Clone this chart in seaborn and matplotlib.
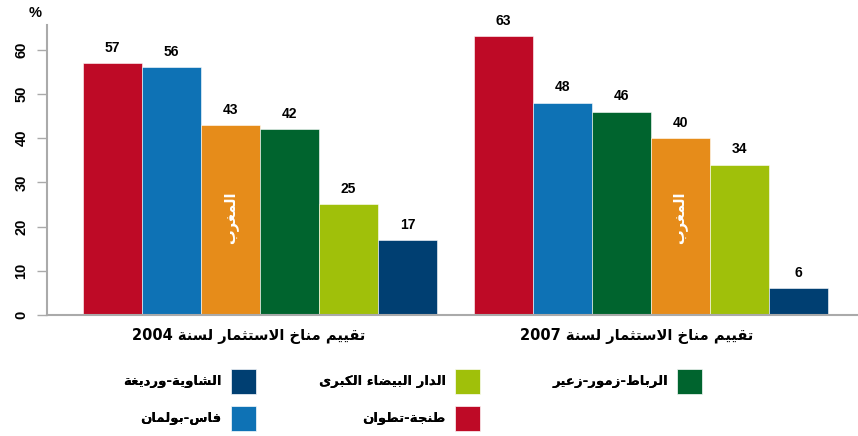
import unicodedata
import matplotlib
matplotlib.use("Agg")
import matplotlib.pyplot as plt
from matplotlib.patches import Patch
import pandas as pd
import seaborn as sns

# ---- data -------------------------------------------------------------
years = ["2004", "2007"]
regions = ["طنجة-تطوان", "فاس-بولمان", "المغرب", "الرباط-زمور-زعير",
           "الدار البيضاء الكبرى", "الشاوية-ورديغة"]
colors = ["#BE0A26", "#0E72B5", "#E68C1A", "#00642E", "#A0C00A", "#003F72"]
values_2004 = [57, 56, 43, 42, 25, 17]
values_2007 = [63, 48, 46, 40, 34, 6]
order_2004 = ["طنجة-تطوان", "فاس-بولمان", "المغرب", "الرباط-زمور-زعير",
              "الدار البيضاء الكبرى", "الشاوية-ورديغة"]
order_2007 = ["طنجة-تطوان", "فاس-بولمان", "الرباط-زمور-زعير", "المغرب",
              "الدار البيضاء الكبرى", "الشاوية-ورديغة"]
year_label = "تقييم مناخ الاستثمار لسنة"
country = "المغرب"
y_ticks = [0, 10, 20, 30, 40, 50, 60]

# legend layout: columns read right-to-left
legend_cols = [["الشاوية-ورديغة", "فاس-بولمان"],
               ["الدار البيضاء الكبرى", "طنجة-تطوان"],
               ["الرباط-زمور-زعير"]]

# ---- minimal Arabic shaping for matplotlib (no bidi engine) ----------
RIGHT_ONLY = set("اأإآدذرزوؤةى")


def _form(ch, form):
    if ch == "\uFEFB":
        return "\uFEFC" if form in ("final", "medial") else "\uFEFB"
    name = unicodedata.name(ch)
    try:
        return unicodedata.lookup(f"{name} {form.upper()} FORM")
    except KeyError:
        return ch


def _is_ar(ch):
    return ch == "\uFEFB" or "\u0621" <= ch <= "\u064A"


def shape(text):
    chars = []
    i = 0
    while i < len(text):
        if text[i] == "ل" and i + 1 < len(text) and text[i + 1] == "ا":
            chars.append("\uFEFB")
            i += 2
        else:
            chars.append(text[i])
            i += 1
    out = []
    for k, ch in enumerate(chars):
        if not _is_ar(ch):
            out.append(ch)
            continue
        dual = ch not in RIGHT_ONLY and ch != "\uFEFB"
        prev = chars[k - 1] if k > 0 else ""
        nxt = chars[k + 1] if k + 1 < len(chars) else ""
        join_prev = bool(prev) and _is_ar(prev) and prev not in RIGHT_ONLY and prev != "\uFEFB"
        join_next = dual and bool(nxt) and _is_ar(nxt)
        if join_prev and join_next:
            form = "medial"
        elif join_prev:
            form = "final"
        elif join_next:
            form = "initial"
        else:
            form = "isolated"
        out.append(_form(ch, form))
    vis = "".join(out)[::-1]
    # digits keep left-to-right order
    res, run = [], ""
    for ch in vis:
        if ch.isdigit():
            run += ch
        else:
            if run:
                res.append(run[::-1])
                run = ""
            res.append(ch)
    if run:
        res.append(run[::-1])
    return "".join(res)


# ---- table ------------------------------------------------------------
rows = []
for year, order, vals in [(years[0], order_2004, values_2004),
                          (years[1], order_2007, values_2007)]:
    for rank, (reg, v) in enumerate(zip(order, vals)):
        rows.append({"year": year, "rank": rank, "region": reg, "value": v})
df = pd.DataFrame(rows)
color_of = dict(zip(regions, colors))

# ---- figure -----------------------------------------------------------
sns.set_theme(style="white")
plt.rcParams["font.family"] = ["DejaVu Sans"]
plt.rcParams["text.color"] = "black"
plt.rcParams["xtick.labelcolor"] = "black"
plt.rcParams["ytick.labelcolor"] = "black"

fig = plt.figure(figsize=(8.58, 4.36), dpi=100)
ax = fig.add_axes([47 / 858, (436 - 315) / 436, (858 - 47) / 858, (315 - 25) / 436])

sns.barplot(data=df, x="year", y="value", hue="rank", order=years,
            dodge=True, width=0.906, palette=["#888888"] * 6,
            legend=False, ax=ax, saturation=1, errorbar=None)

ar_font = dict(family="DejaVu Sans", weight="bold")
num_font = dict(family="Liberation Sans", weight="bold")

for rank, cont in enumerate(ax.containers):
    for yi, bar in enumerate(cont):
        sub = df[(df["year"] == years[yi]) & (df["rank"] == rank)].iloc[0]
        bar.set_facecolor(color_of[sub["region"]])
        bar.set_edgecolor("white")
        bar.set_linewidth(0.4)
        cx = bar.get_x() + bar.get_width() / 2
        ax.annotate(f"{sub['value']:d}", (cx, sub["value"]),
                    xytext=(0, 6), textcoords="offset points",
                    ha="center", va="bottom", fontsize=10, color="black",
                    **num_font)
        if sub["region"] == country:
            ax.text(cx, 22, shape(country), rotation=90, color="white",
                    ha="center", va="center", fontsize=10.5, **ar_font)

ax.set_ylim(0, 65.6)
ax.set_xlim(-0.5455, 1.531)
ax.set_yticks(y_ticks)
ax.set_yticklabels([str(t) for t in y_ticks], rotation=90, va="center",
                   fontsize=10.5, **num_font)
ax.set_xticks([-0.03, 0.965])
ax.set_xticklabels([f"{shape(year_label + ' ' + y)}" for y in years],
                   fontsize=10.5, **ar_font)
ax.tick_params(axis="x", length=0, pad=9, labelcolor="black")
ax.tick_params(axis="y", length=7.5, width=1, color="#aaaaaa", pad=6, left=True,
               labelcolor="black")
ax.set_xlabel("")
ax.set_ylabel("")
for side in ("top", "right"):
    ax.spines[side].set_visible(False)
for side in ("left", "bottom"):
    ax.spines[side].set_color("#aaaaaa")
    ax.spines[side].set_linewidth(1.5)

fig.text(35 / 858, 1 - 13 / 436, "%", ha="center", va="center",
         fontsize=10.5, color="black", **num_font)

# ---- legend: one column per box, labels to the left of the swatches ----
col_right = [256, 480, 702]
for entries, xr in zip(legend_cols, col_right):
    handles = [Patch(facecolor=color_of[r], edgecolor="white", linewidth=0.5)
               for r in entries]
    leg = fig.legend(handles, [shape(r) for r in entries],
                     loc="upper right", bbox_to_anchor=(xr / 858, 1 - 368.5 / 436),
                     bbox_transform=fig.transFigure, frameon=False,
                     markerfirst=False, handlelength=1.9, handleheight=2.54,
                     handletextpad=0.7, labelspacing=0.94, borderpad=0,
                     borderaxespad=0, labelcolor="black",
                     prop=dict(family="DejaVu Sans", weight="bold", size=9.5))
    fig.add_artist(leg)

fig.savefig("out.png", dpi=100)
